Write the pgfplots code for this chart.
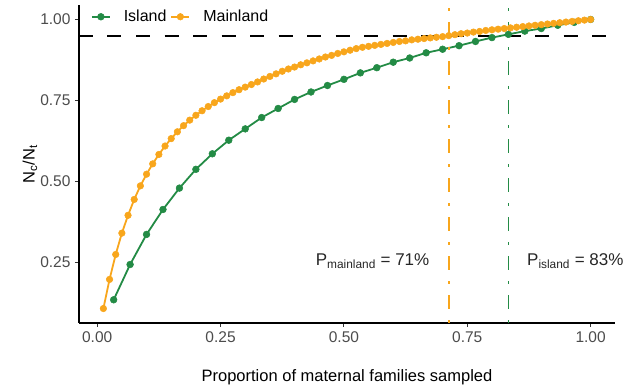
\documentclass[border=0pt]{standalone}
\usepackage{pgfplots}
\pgfplotsset{compat=1.18}
\usepackage{fontspec}
\setmainfont{Liberation Sans}
\definecolor{isl}{RGB}{35,139,69}
\definecolor{mai}{RGB}{248,166,28}
\definecolor{tickgray}{gray}{0.3}
\begin{document}
\begin{tikzpicture}[x=1pt,y=1pt]
\useasboundingbox (-79,-62) rectangle (555,323);
\begin{axis}[
  at={(0,0)}, anchor=south west,
  scale only axis, width=536pt, height=318pt,
  xmin=-0.0369, xmax=1.0494, ymin=0.0623, ymax=1.0447,
  axis x line*=bottom, axis y line*=left,
  axis line style={black, line width=1.1pt, -},
  xtick={0,0.25,0.5,0.75,1}, xticklabels={0.00,0.25,0.50,0.75,1.00},
  ytick={0.25,0.5,0.75,1}, yticklabels={0.25,0.50,0.75,1.00},
  tick align=outside, major tick length=4pt,
  tick style={black!80, line width=1pt},
  ticklabel style={font=\fontsize{15.5}{15.5}\selectfont, text=tickgray},
  xticklabel style={yshift=-1pt},
  yticklabel style={xshift=-1pt},
  xlabel={Proportion of maternal families sampled},
  ylabel={N\textsubscript{c}/N\textsubscript{t}},
  every axis x label/.style={at={(axis description cs:0.5,0)}, anchor=base, yshift=-58pt, font=\fontsize{16.5}{16.5}\selectfont},
  every axis y label/.style={at={(axis description cs:0,0.5)}, xshift=-49pt, rotate=90, anchor=center, font=\fontsize{16.5}{16.5}\selectfont},
  legend columns=2,
  legend style={at={(axis description cs:0.022,0.963)}, anchor=west, draw=none, fill=none, inner sep=0pt,
    font=\fontsize{16}{16}\selectfont,
    /tikz/every odd column/.append style={column sep=11pt},
    /tikz/every even column/.append style={column sep=2pt}},
  legend image code/.code={\draw[mark repeat=2,mark phase=2,#1] plot coordinates {(0pt,0pt) (9pt,0pt) (18pt,0pt)};},
  clip=false,
]
\addplot[isl, line width=1.8pt, mark=*, mark size=3.4pt, mark options={line width=0.5pt}] coordinates {
(0.03333,0.134) (0.06667,0.243) (0.10000,0.336) (0.13333,0.413) (0.16667,0.479)
(0.20000,0.537) (0.23333,0.585) (0.26667,0.627) (0.30000,0.662) (0.33333,0.697)
(0.36667,0.725) (0.40000,0.753) (0.43333,0.776) (0.46667,0.796) (0.50000,0.815)
(0.53333,0.835) (0.56667,0.851) (0.60000,0.868) (0.63333,0.881) (0.66667,0.897)
(0.70000,0.908) (0.73333,0.919) (0.76667,0.932) (0.80000,0.944) (0.83333,0.954)
(0.86667,0.964) (0.90000,0.972) (0.93333,0.982) (0.96667,0.991) (1.00000,1.000)
};
\addlegendentry{Island}
\addplot[mai, line width=1.8pt, mark=*, mark size=3.3pt, mark options={line width=0.5pt}] coordinates {
(0.0125,0.107) (0.0250,0.197) (0.0375,0.274) (0.0500,0.340) (0.0625,0.395)
(0.0750,0.444) (0.0875,0.486) (0.1000,0.522) (0.1125,0.554) (0.1250,0.583)
(0.1375,0.609) (0.1500,0.632) (0.1625,0.653) (0.1750,0.672) (0.1875,0.689)
(0.2000,0.704) (0.2125,0.718) (0.2250,0.731) (0.2375,0.743) (0.2500,0.754)
(0.2625,0.764) (0.2750,0.774) (0.2875,0.783) (0.3000,0.791) (0.3125,0.799)
(0.3250,0.807) (0.3375,0.816) (0.3500,0.824) (0.3625,0.832) (0.3750,0.840)
(0.3875,0.847) (0.4000,0.853) (0.4125,0.860) (0.4250,0.866) (0.4375,0.872)
(0.4500,0.878) (0.4625,0.884) (0.4750,0.889) (0.4875,0.895) (0.5000,0.900)
(0.5125,0.905) (0.5250,0.910) (0.5375,0.914) (0.5500,0.917) (0.5625,0.920)
(0.5750,0.923) (0.5875,0.926) (0.6000,0.929) (0.6125,0.932) (0.6250,0.934)
(0.6375,0.937) (0.6500,0.939) (0.6625,0.941) (0.6750,0.943) (0.6875,0.945)
(0.7000,0.947) (0.7125,0.950) (0.7250,0.953) (0.7375,0.956) (0.7500,0.958)
(0.7625,0.961) (0.7750,0.963) (0.7875,0.966) (0.8000,0.968) (0.8125,0.970)
(0.8250,0.972) (0.8375,0.974) (0.8500,0.976) (0.8625,0.978) (0.8750,0.980)
(0.8875,0.982) (0.9000,0.984) (0.9125,0.986) (0.9250,0.988) (0.9375,0.990)
(0.9500,0.992) (0.9625,0.994) (0.9750,0.996) (0.9875,0.998) (1.0000,1.000)
};
\addlegendentry{Mainland}
\addplot[black, line width=1.8pt, dash pattern=on 14pt off 14.5pt, forget plot] coordinates {(-0.0369,0.95) (1.0494,0.95)};
\addplot[mai, line width=1.6pt, dash pattern=on 3pt off 11pt on 14pt off 11pt, forget plot] coordinates {(0.7125,0.0623) (0.7125,1.0447)};
\addplot[isl, line width=1.6pt, dash pattern=on 3pt off 11pt on 14pt off 11pt, forget plot] coordinates {(0.8333,0.0623) (0.8333,1.0447)};
\node[font=\fontsize{17}{17}\selectfont, text=black!85] at (axis cs:0.558,0.253) {P\textsubscript{mainland} = 71\%};
\node[font=\fontsize{17}{17}\selectfont, text=black!85] at (axis cs:0.969,0.253) {P\textsubscript{island} = 83\%};
\end{axis}
\end{tikzpicture}
\end{document}
